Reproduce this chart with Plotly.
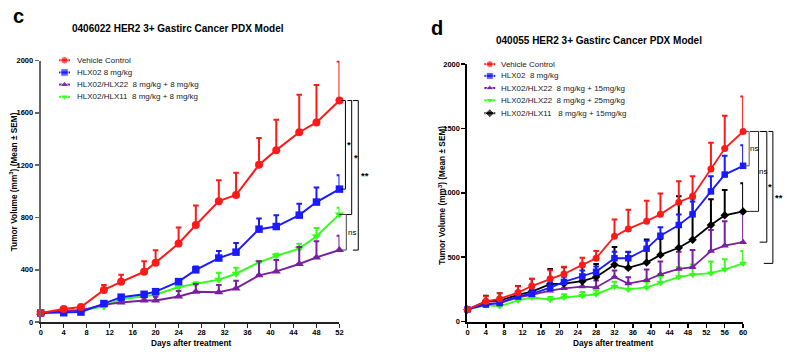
import plotly.graph_objects as go

# ---------------- data: panel c ----------------
days_c = [0, 4, 7, 11, 14, 18, 20, 24, 27, 31, 34, 38, 41, 45, 48, 52]
veh_c = [70, 101, 116, 246, 308, 385, 455, 601, 743, 925, 972, 1203, 1315, 1452, 1527, 1694]
veh_c_err = [5, 10, 10, 38, 55, 80, 94, 123, 149, 159, 170, 204, 232, 286, 286, 298]
hlx02_c = [70, 72, 77, 142, 191, 213, 233, 310, 400, 490, 535, 711, 731, 818, 918, 1017]
hlx02_c_err = [5, 8, 8, 12, 15, 15, 18, 12, 25, 53, 70, 82, 87, 87, 112, 107]
hlx22_c = [70, 85, 90, 134, 151, 166, 166, 196, 233, 228, 258, 358, 388, 445, 495, 551]
hlx22_c_err = [5, 8, 10, 15, 18, 22, 28, 43, 58, 56, 58, 107, 87, 130, 124, 110]
hlx11_c = [70, 88, 90, 120, 175, 200, 210, 268, 290, 325, 370, 457, 507, 562, 657, 823]
hlx11_c_err = [5, 5, 5, 8, 8, 10, 10, 12, 15, 52, 45, 10, 15, 37, 62, 52]

# ---------------- data: panel d ----------------
days_d = [0, 4, 7, 11, 14, 18, 21, 25, 28, 32, 35, 39, 42, 46, 49, 53, 56, 60]
veh_d = [94, 157, 177, 225, 276, 333, 370, 440, 492, 662, 720, 780, 833, 927, 973, 1185, 1344, 1477]
veh_d_err = [8, 40, 45, 50, 55, 65, 55, 55, 56, 131, 149, 159, 162, 164, 156, 204, 255, 271]
hlx02_d = [94, 132, 144, 195, 215, 263, 308, 351, 387, 492, 492, 566, 667, 750, 833, 1011, 1142, 1210]
hlx02_d_err = [8, 20, 25, 30, 35, 40, 40, 45, 40, 51, 51, 61, 66, 81, 99, 118, 146, 159]
hlx22_15_d = [94, 139, 144, 187, 208, 240, 258, 272, 265, 346, 295, 321, 367, 409, 422, 548, 590, 617]
hlx22_15_d_err = [8, 20, 20, 30, 30, 40, 40, 45, 55, 51, 50, 83, 100, 134, 134, 164, 190, 222]
hlx22_25_d = [94, 126, 119, 164, 187, 170, 187, 200, 212, 270, 250, 265, 301, 346, 364, 376, 404, 452]
hlx22_25_d_err = [8, 15, 15, 20, 20, 20, 25, 30, 30, 40, 45, 45, 50, 76, 80, 91, 81, 96]
hlx11_d = [94, 157, 162, 208, 233, 291, 295, 314, 346, 442, 417, 458, 518, 573, 636, 750, 826, 856]
hlx11_d_err = [8, 43, 58, 68, 100, 118, 127, 133, 101, 137, 124, 180, 125, 400, 320, 200, 197, 218]

yticks_c = [0, 400, 800, 1200, 1600, 2000]
yticks_d = [0, 500, 1000, 1500, 2000]
xticks_c = list(range(0, 53, 4))
xticks_d = list(range(0, 61, 4))

labels_c = ["Vehicle Control", "HLX02 8 mg/kg",
            "HLX02/HLX22\u00a0 8 mg/kg + 8 mg/kg", "HLX02/HLX11\u00a0 8 mg/kg + 8 mg/kg"]
labels_d = ["Vehicle Control", "HLX02\u00a0 8 mg/kg",
            "HLX02/HLX22\u00a0 8 mg/kg + 15mg/kg", "HLX02/HLX22\u00a0 8 mg/kg + 25mg/kg",
            "HLX02/HLX11\u00a0\u00a0 8 mg/kg + 15mg/kg"]

RED = "#ff1a1a"
BLUE = "#1a1aff"
PURPLE = "#7a1fa2"
GREEN = "#33ff1a"
BLACK = "#000000"
FONT = "Liberation Sans, Arial, sans-serif"

fig = go.Figure()


def add_series(x, y, err, color, symbol, size, xa, ya, lw):
    fig.add_trace(go.Scatter(
        x=x, y=y, mode="lines+markers", xaxis=xa, yaxis=ya,
        line=dict(color=color, width=lw),
        marker=dict(color=color, symbol=symbol, size=size),
        error_y=dict(type="data", symmetric=False, array=err, arrayminus=[0] * len(err),
                     color=color, thickness=2, width=2.8),
        cliponaxis=False, showlegend=False, hoverinfo="skip"))


# panel c (draw order: green, purple, blue, red on top)
add_series(days_c, hlx11_c, hlx11_c_err, GREEN, "triangle-down", 8, "x", "y", 2)
add_series(days_c, hlx22_c, hlx22_c_err, PURPLE, "triangle-up", 8, "x", "y", 2)
add_series(days_c, hlx02_c, hlx02_c_err, BLUE, "square", 7.5, "x", "y", 2)
add_series(days_c, veh_c, veh_c_err, RED, "circle", 8, "x", "y", 2)

# panel d
add_series(days_d, hlx22_25_d, hlx22_25_d_err, GREEN, "triangle-down", 7, "x2", "y2", 1.8)
add_series(days_d, hlx22_15_d, hlx22_15_d_err, PURPLE, "triangle-up", 7, "x2", "y2", 1.8)
add_series(days_d, hlx11_d, hlx11_d_err, BLACK, "diamond", 6.5, "x2", "y2", 1.8)
add_series(days_d, hlx02_d, hlx02_d_err, BLUE, "square", 6.5, "x2", "y2", 1.8)
add_series(days_d, veh_d, veh_d_err, RED, "circle", 7, "x2", "y2", 1.8)

# ---------------- custom legends (pixel overlay axis) ----------------
W, H = 800, 360


def legend_key(cx, cy, color, symbol, size):
    fig.add_trace(go.Scatter(
        x=[cx - 5.5, cx, cx + 5.5], y=[cy, cy, cy], mode="lines+markers",
        xaxis="x3", yaxis="y3", line=dict(color=color, width=2),
        marker=dict(color=color, symbol=symbol, size=[0, size, 0]),
        showlegend=False, hoverinfo="skip"))


annotations = []
leg_c_y = [57.7, 70.2, 82.7, 95.2]
for lbl, col, sym, yy in zip(labels_c, [RED, BLUE, PURPLE, GREEN],
                             ["circle", "square", "triangle-up", "triangle-down"], leg_c_y):
    legend_key(63, yy, col, sym, 7.5)
    annotations.append(dict(x=74 / W, y=1 - yy / H, xref="paper", yref="paper", text=lbl,
                            showarrow=False, xanchor="left", yanchor="middle",
                            font=dict(family=FONT, size=8, color="#222")))

leg_d_y = [61.7, 73.7, 86.2, 98.7, 112]
for lbl, col, sym, yy in zip(labels_d, [RED, BLUE, PURPLE, GREEN, BLACK],
                             ["circle", "square", "triangle-up", "triangle-down", "diamond"], leg_d_y):
    legend_key(491.5, yy, col, sym, 7)
    annotations.append(dict(x=501 / W, y=1 - yy / H, xref="paper", yref="paper", text=lbl,
                            showarrow=False, xanchor="left", yanchor="middle",
                            font=dict(family=FONT, size=8, color="#222")))

# titles, panel letters, axis titles
bold = dict(family=FONT, color="#000", weight="bold")
annotations += [
    dict(x=17 / W, y=1 - 12 / H, text="c", font=dict(bold, size=20)),
    dict(x=438 / W, y=1 - 25 / H, text="d", font=dict(bold, size=20)),
    dict(x=177.5 / W, y=1 - 25 / H, text="0406022 HER2 3+ Gastirc Cancer PDX Model", font=dict(bold, size=10)),
    dict(x=602 / W, y=1 - 37 / H, text="040055 HER2 3+ Gastirc Cancer PDX Model", font=dict(bold, size=10)),
    dict(x=190 / W, y=1 - 347.5 / H, text="Days after treatment", font=dict(bold, size=8.3)),
    dict(x=615.5 / W, y=1 - 347.5 / H, text="Days after treatment", font=dict(bold, size=8.3)),
    dict(x=12 / W, y=1 - 182 / H, text="Tumor Volume (mm<sup>3</sup>) (Mean \u00b1 SEM)",
         textangle=-90, font=dict(bold, size=8.3)),
    dict(x=443 / W, y=1 - 196 / H, text="Tumor Volume (mm<sup>3</sup>) (Mean \u00b1 SEM)",
         textangle=-90, font=dict(bold, size=8.3)),
]
for a in annotations[-8:]:
    a.update(xref="paper", yref="paper", showarrow=False, xanchor="center", yanchor="middle")

# ---------------- significance brackets ----------------
shapes = []


def bracket(xa, ya, y_top, y_bot, x_top0, x_bot0, x_v, label, x_lbl, color="#000"):
    xr, yr = xa + " domain", ya
    for (x0, y0, x1, y1) in [(x_top0, y_top, x_v, y_top), (x_v, y_top, x_v, y_bot), (x_bot0, y_bot, x_v, y_bot)]:
        shapes.append(dict(type="line", xref=xr, yref=yr, x0=x0, y0=y0, x1=x1, y1=y1,
                           line=dict(color=color, width=1)))
    size = 8 if label == "ns" else 9.5
    annotations.append(dict(xref=xr, yref=yr, x=x_lbl, y=(y_top + y_bot) / 2, text=label,
                            showarrow=False, xanchor="center", yanchor="middle",
                            font=dict(family=FONT, size=size, color="#000",
                                      weight="normal" if label == "ns" else "bold")))


last = -1
bracket("x", "y", veh_c[last], hlx02_c[last], 1.006, 1.006, 1.020, "*", 1.031)
bracket("x", "y", veh_c[last], hlx11_c[last], 1.027, 1.000, 1.041, "*", 1.054)
bracket("x", "y", veh_c[last], hlx22_c[last], 1.045, 1.045, 1.063, "**", 1.084)
bracket("x", "y", hlx11_c[last], hlx22_c[last], 1.003, 1.003, 1.023, "ns", 1.043, "#444")

bracket("x2", "y2", veh_d[last], hlx02_d[last], 1.005, 1.005, 1.022, "ns", 1.040, "#555")
bracket("x2", "y2", veh_d[last], hlx11_d[last], 1.025, 1.010, 1.056, "ns", 1.073, "#222")
bracket("x2", "y2", veh_d[last], hlx22_15_d[last], 1.060, 1.060, 1.086, "*", 1.098)
bracket("x2", "y2", veh_d[last], hlx22_25_d[last], 1.092, 1.075, 1.108, "**", 1.132)

# ---------------- axes ----------------
tickfont = dict(family=FONT, size=7.5, color="#000", weight="bold")


def axis(domain, rng, tickvals, anchor, color="#000"):
    return dict(domain=domain, range=rng, tickvals=tickvals, anchor=anchor,
                showline=True, linecolor=color, linewidth=2, ticks="outside",
                ticklen=4, tickwidth=1.5, tickcolor=color, showgrid=False, zeroline=False,
                tickfont=tickfont, fixedrange=True)


xa_c = axis([39 / W, 340 / W], [0, 52], xticks_c, "y", "#222")
xa_d = axis([469 / W, 746.7 / W], [0, 60], xticks_d, "y2")
xa_c["ticklabelstandoff"] = -2
xa_d["ticklabelstandoff"] = -2

fig.update_layout(
    width=W, height=H, margin=dict(l=0, r=0, t=0, b=0),
    paper_bgcolor="white", plot_bgcolor="rgba(0,0,0,0)",
    xaxis=xa_c,
    yaxis=axis([1 - 326.3 / H, 1 - 58 / H], [0, 2000], yticks_c, "x", "#666"),
    xaxis2=xa_d,
    yaxis2=axis([1 - 325.7 / H, 1 - 61.7 / H], [0, 2000], yticks_d, "x2"),
    xaxis3=dict(domain=[0, 1], range=[0, W], visible=False, anchor="y3", fixedrange=True),
    yaxis3=dict(domain=[0, 1], range=[H, 0], visible=False, anchor="x3", fixedrange=True),
    annotations=annotations, shapes=shapes, showlegend=False, hovermode=False,
)

fig.write_html("out.html", config={"displayModeBar": False, "staticPlot": True},
               post_script="document.body.style.margin='0';document.body.style.padding='0';")
